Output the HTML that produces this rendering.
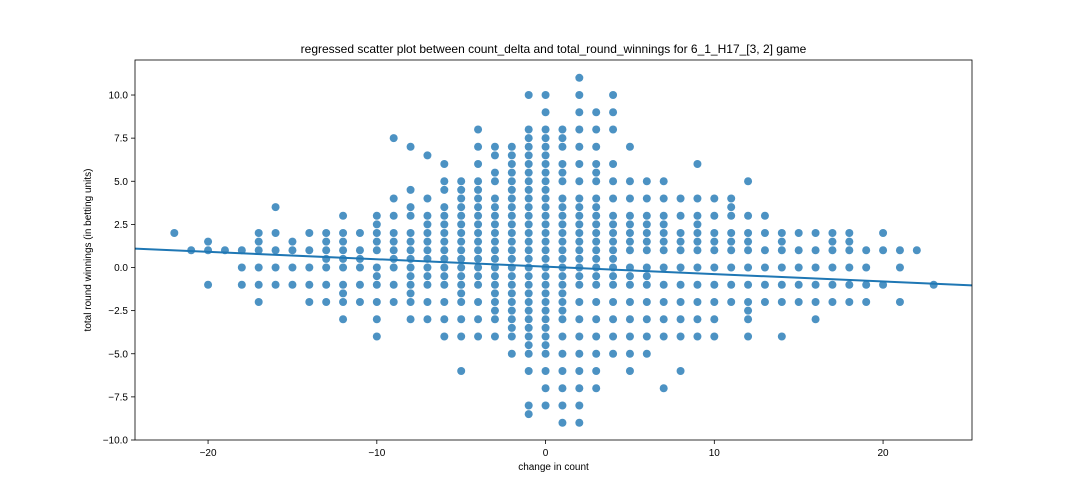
<!DOCTYPE html>
<html><head><meta charset="utf-8"><style>
body{margin:0;background:#fff;}
svg{display:block;font-family:"Liberation Sans","DejaVu Sans",sans-serif;}
</style></head><body>
<svg id="chart" width="1080" height="504" viewBox="0 0 1080 504"></svg>
<script>
const xCategories=[-22,-21,-20,-19,-18,-17,-16,-15,-14,-13,-12,-11,-10,-9,-8,-7,-6,-5,-4,-3,-2,-1,0,1,2,3,4,5,6,7,8,9,10,11,12,13,14,15,16,17,18,19,20,21,22,23];
const yValues=[
[2],[1],[1.5,1,-1],[1],[1,0,-1],
[2,1.5,1,0,-1,-2],[3.5,2,1,0,-1],[1.5,1,0,-1],[2,1,0,-1,-2],
[2,1.5,1,0.5,0,-1,-2],[3,2,1.5,1,0.5,0,-1,-1.5,-2,-3],[2,1,0.5,0,-1,-2],
[3,2.5,2,1.5,1,0,-0.5,-1,-2,-3,-4],[7.5,4,3,2,1.5,1,0.5,0,-1,-2],
[7,4.5,3.5,3,2,1.5,1,0.5,0,-0.5,-1,-1.5,-2,-3],
[6.5,4,3,2.5,2,1.5,1,0.5,0,-0.5,-1,-2,-3],
[6,5,4.5,3.5,3,2.5,2,1.5,1,0.5,0,-0.5,-1,-2,-3,-4],
[5,4.5,4,3.5,3,2.5,2,1.5,1,0.5,0,-0.5,-1,-1.5,-2,-3,-4,-6],
[8,7,6,5,4.5,4,3.5,3,2.5,2,1.5,1,0.5,0,-0.5,-1,-2,-3,-4],
[7,6.5,5.5,5,4,3.5,3,2.5,2,1.5,1,0.5,0,-0.5,-1,-1.5,-2,-2.5,-3,-4],
[7,6.5,6,5.5,5,4.5,4,3.5,3,2.5,2,1.5,1,0.5,0,-0.5,-1,-1.5,-2,-2.5,-3,-3.5,-4,-5],
[10,8,7.5,7,6.5,6,5.5,5,4.5,4,3.5,3,2.5,2,1.5,1,0.5,0,-0.5,-1,-1.5,-2,-2.5,-3,-3.5,-4,-4.5,-5,-6,-8,-8.5],
[10,9,8,7.5,7,6.5,6,5.5,5,4.5,4,3.5,3,2.5,2,1.5,1,0.5,0,-0.5,-1,-1.5,-2,-2.5,-3,-3.5,-4,-4.5,-5,-6,-7,-8],
[8,7.5,7,6,5.5,5,4,3.5,3,2.5,2,1.5,1,0.5,0,-0.5,-1,-1.5,-2,-2.5,-3,-4,-5,-6,-7,-8,-9],
[11,10,9,8,7,6,5,4,3.5,3,2.5,2,1.5,1,0.5,0,-0.5,-1,-2,-3,-4,-5,-6,-7,-8,-9],
[9,8,7,6,5.5,5,4,3.5,3,2.5,2,1.5,1,0.5,0,-0.5,-1,-2,-3,-4,-5,-6,-7],
[10,9,8,6,5,4,3,2.5,2,1.5,1,0.5,0,-0.5,-1,-2,-3,-4,-5],
[7,5,4,3,2.5,2,1.5,1,0,-0.5,-1,-2,-3,-4,-5,-6],
[5,4,3,2.5,2,1.5,1,0,-0.5,-1,-2,-3,-4,-5],
[5,4,3,2.5,2,1.5,1,0,-1,-2,-3,-4,-7],
[4,3,2,1.5,1,0,-1,-2,-3,-4,-6],
[6,4,3,2.5,2,1.5,1,0,-1,-2,-3,-4],
[4,3,2,1.5,1,0,-1,-2,-3,-4],
[4,3.5,3,2,1.5,1,0,-1,-2],
[5,3,2,1.5,1,0,-1,-2,-2.5,-3,-4],
[3,2,1,0,-1,-2],[2,1.5,1,0,-1,-2,-4],[2,1,0,-1,-2],[2,1,0,-1,-2,-3],
[2,1.5,1,0,-1,-2],[2,1.5,1,0,-1,-2],[1,0,-1,-2],[2,1,-1],[1,0,-2],[1],[-1]
];
const xTicks=[-20,-10,0,10,20];
const yTicks=[-10,-7.5,-5,-2.5,0,2.5,5,7.5,10];
const regression=[0.05,-0.043];
const NS='http://www.w3.org/2000/svg';
const svg=document.getElementById('chart');
const L=135,R=972,T=60,B=440,xmin=-24.33,xmax=25.27,ymin=-10,ymax=12.03;
const sx=v=>L+(v-xmin)/(xmax-xmin)*(R-L);
const sy=v=>B-(v-ymin)/(ymax-ymin)*(B-T);
function mk(t,a,p){const e=document.createElementNS(NS,t);for(const k in a)e.setAttribute(k,a[k]);(p||svg).appendChild(e);return e;}
const pts=mk('g',{});


xCategories.forEach((x,i)=>{yValues[i].forEach(y=>{
 const c=mk('circle',{cx:sx(x),cy:sy(y),r:4,fill:'#1f77b4','fill-opacity':0.8},pts);
 
 
});});
const ln=mk('line',{x1:sx(xmin),y1:sy(regression[0]+regression[1]*xmin),x2:sx(xmax),y2:sy(regression[0]+regression[1]*xmax),stroke:'#1f77b4','stroke-width':2});


const fr=mk('rect',{x:L,y:T,width:R-L,height:B-T,fill:'none',stroke:'#000','stroke-width':0.8});


xTicks.forEach(v=>{
 mk('line',{x1:sx(v),x2:sx(v),y1:B,y2:B+4,stroke:'#000','stroke-width':0.8});
 const t=mk('text',{x:sx(v),y:B+16,'text-anchor':'middle','font-size':10});
 t.textContent=v<0?'\u2212'+(-v):String(v);
 
 
});
yTicks.forEach(v=>{
 mk('line',{x1:L-4,x2:L,y1:sy(v),y2:sy(v),stroke:'#000','stroke-width':0.8});
 const t=mk('text',{x:L-7,y:sy(v)+3.5,'text-anchor':'end','font-size':10});
 t.textContent=(v<0?'\u2212':'')+Math.abs(v).toFixed(1);
 
 
});
const tt=mk('text',{x:(L+R)/2,y:53,'text-anchor':'middle','font-size':12});
tt.textContent='regressed scatter plot between count_delta and total_round_winnings for 6_1_H17_[3, 2] game';


const xl=mk('text',{x:(L+R)/2,y:470,'text-anchor':'middle','font-size':10});
xl.textContent='change in count';


const yl=mk('text',{x:0,y:0,'text-anchor':'middle','font-size':10,transform:'translate(91,250) rotate(-90)'});
yl.textContent='total round winnings (in betting units)';


</script>
</body></html>
